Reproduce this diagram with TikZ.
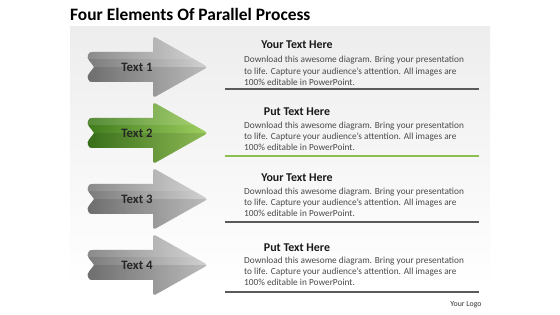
\documentclass[tikz,border=0pt]{standalone}
\usepackage{fontspec}
\setmainfont{Carlito}
\usetikzlibrary{calc}
\definecolor{bodygray}{HTML}{4A4A4A}
\definecolor{sepgray}{HTML}{5A5A5A}
\definecolor{sepgreen}{HTML}{8DC050}
\definecolor{gleft}{HTML}{7A7A7A}
\definecolor{gright}{HTML}{D2D2D2}
\definecolor{grleft}{HTML}{3E7A1C}
\definecolor{grright}{HTML}{9FD060}
\tikzset{
  head/.style={font=\bfseries\fontsize{11.9}{13}\selectfont, text=black!90, inner sep=0pt},
  bodytext/.style={font=\fontsize{9.3}{11.3}\selectfont, text=bodygray, align=left, anchor=base west, inner sep=0pt},
  label/.style={font=\bfseries\fontsize{12.8}{14}\selectfont, text=black!85, inner sep=0pt},
  sep/.style={line width=1.1pt, sepgray},
}
\newcommand\arrowpath{%
  (94,0) .. controls (91,-5) and (86,-8) .. (88,-12)
  .. controls (89,-15) and (90,-15) .. (93,-15)
  -- (153,-15) [rounded corners=3pt]-- (153,-31) -- (208,0) -- (153,31) [sharp corners]-- (153,15)
  -- (93,15) .. controls (90,15) and (89,15) .. (88,12)
  .. controls (86,8) and (91,5) .. (94,0) -- cycle}
\newcommand\drawarrow[3]{%
  \begin{scope}[shift={(0,#1)}]
    \path[left color=#2, right color=#3] \arrowpath;
    \begin{scope}
      \clip \arrowpath;
      \fill[black, opacity=0.10] (80,0) rectangle (215,35);
      \fill[white, opacity=0.12] (80,-35) rectangle (215,-8);
    \end{scope}
  \end{scope}}
\begin{document}
\begin{tikzpicture}[x=1pt, y=-1pt]
\useasboundingbox (0,0) rectangle (560,315);
\fill[white] (0,0) rectangle (560,315);
\path[top color=black!7, bottom color=white] (70,27) rectangle (490,287);
\node[anchor=west, font=\bfseries\fontsize{17.4}{19}\selectfont, inner sep=0pt] (title) at (70,14) {Four Elements Of Parallel Process};

\drawarrow{67}{gleft}{gright}
\drawarrow{133}{grleft}{grright}
\drawarrow{199}{gleft}{gright}
\drawarrow{265}{gleft}{gright}

\node[label] (t1) at (137,67) {Text 1};
\node[label] (t2) at (137,133) {Text 2};
\node[label] (t3) at (137,199) {Text 3};
\node[label] (t4) at (137,265) {Text 4};

\node[head] (h1) at (297,45) {Your Text Here};
\node[bodytext] (b1) at (244,85.5) {Download this awesome diagram. Bring your presentation\\to life. Capture your audience’s attention. All images are\\100\% editable in PowerPoint.};
\draw[sep] (225,89) -- (479,89);

\node[head] (h2) at (297,112) {Put Text Here};
\node[bodytext] (b2) at (244,151) {Download this awesome diagram. Bring your presentation\\to life. Capture your audience’s attention. All images are\\100\% editable in PowerPoint.};
\draw[sep, sepgreen] (225,156) -- (479,156);

\node[head] (h3) at (297,178) {Your Text Here};
\node[bodytext] (b3) at (244,217) {Download this awesome diagram. Bring your presentation\\to life. Capture your audience’s attention. All images are\\100\% editable in PowerPoint.};
\draw[sep] (225,222) -- (479,222);

\node[head] (h4) at (297,248) {Put Text Here};
\node[bodytext] (b4) at (244,286) {Download this awesome diagram. Bring your presentation\\to life. Capture your audience’s attention. All images are\\100\% editable in PowerPoint.};
\draw[sep] (225,292) -- (479,292);

\node[font=\fontsize{7.8}{9}\selectfont, text=black!80, inner sep=0pt] (logo) at (466,305) {Your Logo};
\end{tikzpicture}
\end{document}
